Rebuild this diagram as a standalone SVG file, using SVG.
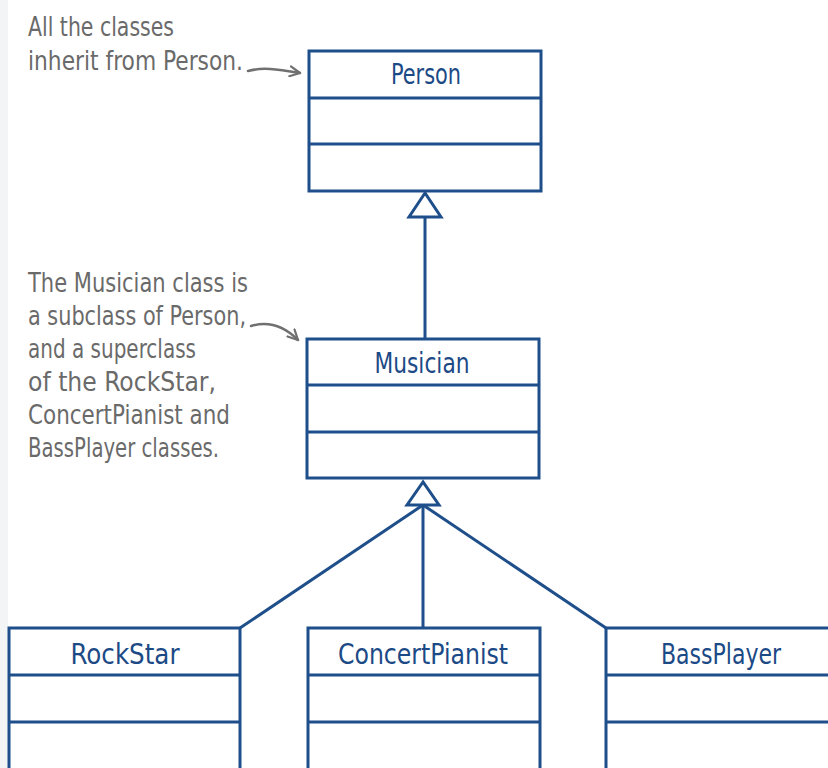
<svg xmlns="http://www.w3.org/2000/svg" width="828" height="768" viewBox="0 0 828 768">
<defs>
<style>
.box{fill:#fff;stroke:#1f4f8b;stroke-width:3}
.div{stroke:#1f4f8b;stroke-width:3}
.name{font-family:"Liberation Sans Narrow","DejaVu Sans Condensed","Liberation Sans",sans-serif;font-size:28px;fill:#1c4a86;text-anchor:middle}
.note{font-family:"Liberation Sans Narrow","DejaVu Sans Condensed","Liberation Sans",sans-serif;font-size:26px;fill:#6a6a6a}
.conn{stroke:#1f4f8b;stroke-width:3;fill:none}
.tri{fill:#fff;stroke:#1f4f8b;stroke-width:3;stroke-linejoin:miter}
.ann{stroke:#707070;stroke-width:2.5;fill:none;stroke-linecap:round}
</style>
<marker id="openhead" viewBox="0 0 12 12" refX="11" refY="6" markerWidth="12" markerHeight="12" markerUnits="userSpaceOnUse" orient="auto">
<path d="M1,1 L11,6 L1,11" fill="none" stroke="#707070" stroke-width="2.2" stroke-linecap="round" stroke-linejoin="round"/>
</marker>
</defs>
<rect x="0" y="0" width="828" height="768" fill="#fff"/>
<rect x="0" y="0" width="8" height="768" fill="#f3f4f5"/>

<g id="connectors">
<line class="conn" x1="425" y1="217" x2="425" y2="339"/>
<polygon class="tri" points="425,193 409,217 441,217"/>
<line class="conn" x1="423" y1="505" x2="240" y2="628"/>
<line class="conn" x1="423" y1="505" x2="423" y2="628"/>
<line class="conn" x1="423" y1="505" x2="606" y2="628"/>
<polygon class="tri" points="423,482 407,505 439,505"/>
</g>

<g id="person">
<rect class="box" x="309" y="51" width="232" height="140"/>
<line class="div" x1="309" y1="98" x2="541" y2="98"/>
<line class="div" x1="309" y1="144" x2="541" y2="144"/>
<text class="name" x="426" y="84" textLength="70" lengthAdjust="spacingAndGlyphs">Person</text>
</g>

<g id="musician">
<rect class="box" x="307" y="339" width="232" height="139"/>
<line class="div" x1="307" y1="385" x2="539" y2="385"/>
<line class="div" x1="307" y1="432" x2="539" y2="432"/>
<text class="name" x="422" y="373" textLength="95" lengthAdjust="spacingAndGlyphs">Musician</text>
</g>

<g id="rockstar">
<rect class="box" x="9" y="628" width="231" height="150"/>
<line class="div" x1="9" y1="675" x2="240" y2="675"/>
<line class="div" x1="9" y1="722" x2="240" y2="722"/>
<text class="name" x="125" y="664" textLength="109" lengthAdjust="spacingAndGlyphs">RockStar</text>
</g>

<g id="concertpianist">
<rect class="box" x="308" y="628" width="232" height="150"/>
<line class="div" x1="308" y1="675" x2="540" y2="675"/>
<line class="div" x1="308" y1="722" x2="540" y2="722"/>
<text class="name" x="423" y="664" textLength="170" lengthAdjust="spacingAndGlyphs">ConcertPianist</text>
</g>

<g id="bassplayer">
<rect class="box" x="606" y="628" width="240" height="150"/>
<line class="div" x1="606" y1="675" x2="846" y2="675"/>
<line class="div" x1="606" y1="722" x2="846" y2="722"/>
<text class="name" x="721" y="664" textLength="120" lengthAdjust="spacingAndGlyphs">BassPlayer</text>
</g>

<g id="note-person">
<text class="note" x="28" y="36" textLength="146" lengthAdjust="spacingAndGlyphs">All the classes</text>
<text class="note" x="28" y="70" textLength="215" lengthAdjust="spacingAndGlyphs">inherit from Person.</text>
<path class="ann" d="M248,71 C262,67 276,69 300,73" marker-end="url(#openhead)"/>
</g>

<g id="note-musician">
<text class="note" x="28" y="292" textLength="220" lengthAdjust="spacingAndGlyphs">The Musician class is</text>
<text class="note" x="28" y="325" textLength="218" lengthAdjust="spacingAndGlyphs">a subclass of Person,</text>
<text class="note" x="28" y="358" textLength="168" lengthAdjust="spacingAndGlyphs">and a superclass</text>
<text class="note" x="28" y="391" textLength="188" lengthAdjust="spacingAndGlyphs">of the RockStar,</text>
<text class="note" x="28" y="424" textLength="202" lengthAdjust="spacingAndGlyphs">ConcertPianist and</text>
<text class="note" x="28" y="457" textLength="191" lengthAdjust="spacingAndGlyphs">BassPlayer classes.</text>
<path class="ann" d="M251,326 C268,321 284,326 298,340" marker-end="url(#openhead)"/>
</g>
</svg>
